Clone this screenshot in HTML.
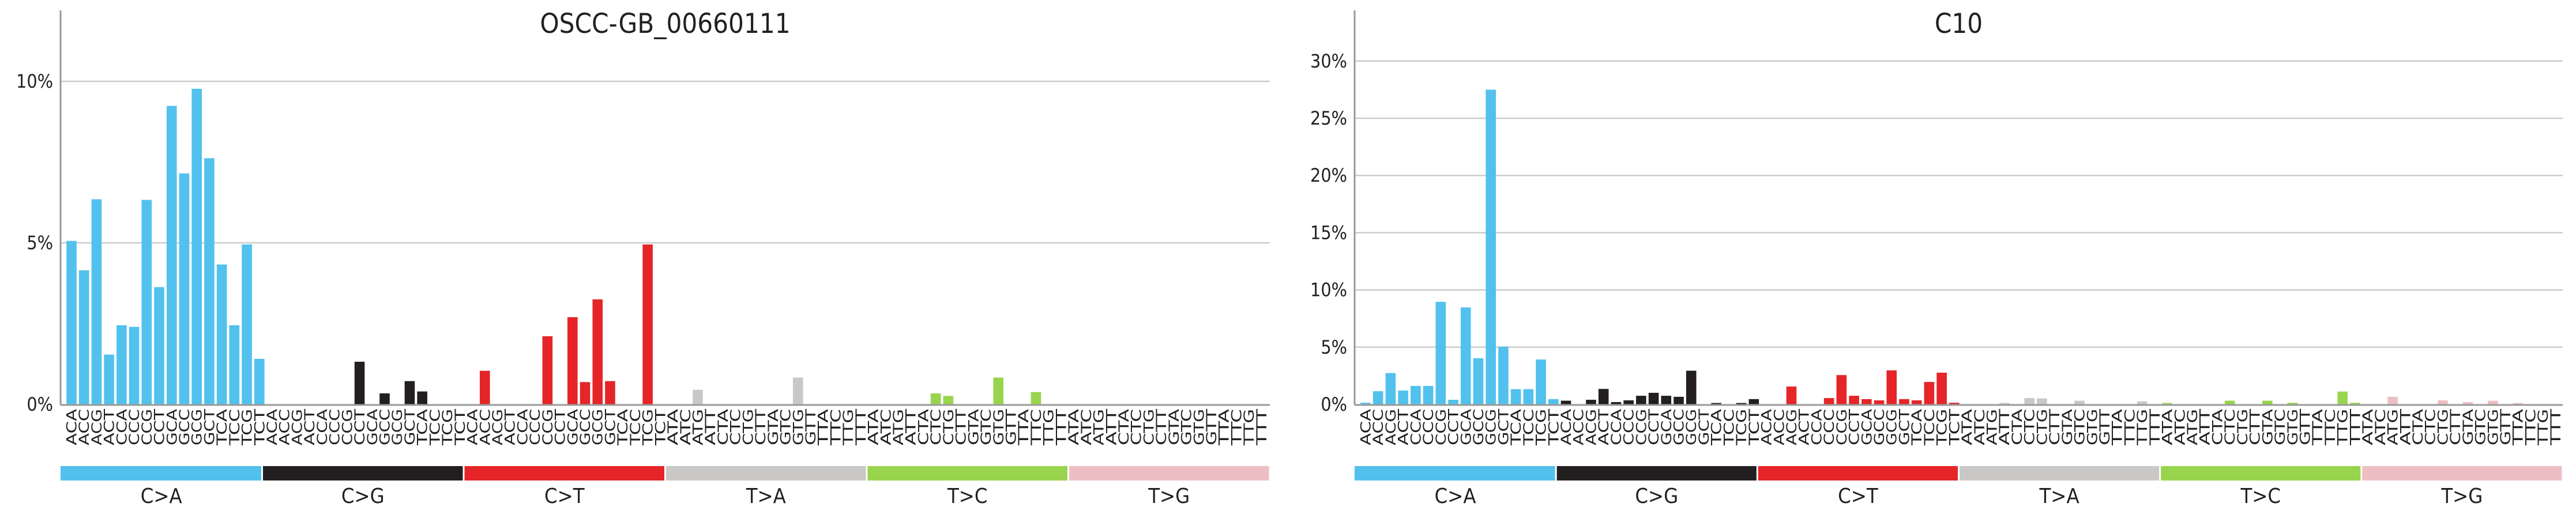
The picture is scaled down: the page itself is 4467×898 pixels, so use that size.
<!DOCTYPE html>
<html><head><meta charset="utf-8"><style>
html,body{margin:0;padding:0;background:#fff;}
svg{display:block;font-family:"DejaVu Sans Condensed","DejaVu Sans","Liberation Sans",sans-serif;}
</style></head><body>
<svg id="chart" width="4467" height="898" viewBox="0 0 4467 898" xmlns="http://www.w3.org/2000/svg"></svg>
<script>
const groups = ["C>A","C>G","C>T","T>A","T>C","T>G"];
const groupColors = ["#52c1ee","#231f20","#e52528","#c9c8c6","#98d44d","#edbec3"];
const panelTitles = ["OSCC-GB_00660111","C10"];
const seriesA = [5.06,4.15,6.35,1.54,2.45,2.40,6.33,3.63,9.24,7.15,9.77,7.62,4.33,2.45,4.95,1.41,
 0,0,0,0,0,0,0,1.32,0,0.34,0,0.72,0.40,0,0,0,
 0,1.04,0,0,0,0,2.11,0,2.70,0.69,3.25,0.72,0,0,4.95,0,
 0,0,0.45,0,0,0,0,0,0,0,0.83,0,0,0,0,0,
 0,0,0,0,0,0.34,0.26,0,0,0,0.83,0,0,0.38,0,0,
 0,0,0,0,0,0,0,0,0,0,0,0,0,0,0,0];
const seriesB = [0.14,1.15,2.74,1.21,1.61,1.61,8.96,0.40,8.47,4.03,27.5,5.04,1.33,1.33,3.92,0.46,
 0.32,0,0.40,1.35,0.20,0.35,0.75,1.01,0.75,0.66,2.94,0,0.12,0,0.12,0.46,
 0,0,1.56,0,0,0.55,2.56,0.75,0.46,0.35,2.97,0.46,0.35,1.96,2.77,0.14,
 0,0,0,0.12,0,0.55,0.52,0,0,0.32,0,0,0,0,0.26,0,
 0.12,0,0,0,0,0.32,0,0,0.32,0,0.14,0,0,0,1.12,0.14,
 0,0,0.66,0,0,0,0.35,0,0.20,0,0.32,0,0.12,0,0,0];
const ticksA = [0,5,10];
const ticksB = [0,5,10,15,20,25,30];
const bases = ["A","C","G","T"];

const NS="http://www.w3.org/2000/svg";
const svg=document.getElementById('chart');
function mk(tag,attrs,parent){const e=document.createElementNS(NS,tag);for(const k in attrs)e.setAttribute(k,attrs[k]);(parent||svg).appendChild(e);return e;}

const panels=[
 {title:panelTitles[0],data:seriesA,ticks:ticksA,x0:105,x1:2202,c0:124,pxPer:56,tickX:92,name:'left'},
 {title:panelTitles[1],data:seriesB,ticks:ticksB,x0:2349,x1:4444,c0:2368,pxPer:19.84,tickX:2336,name:'right'}
];
const Y0=701, STEP=21.72, BW=17.6;

panels.forEach(p=>{
 const g=mk('g',{});
 
 
 const y=v=>Y0-v*p.pxPer;
 const xc=i=>p.c0+i*STEP;
 p.ticks.forEach(t=>{
  if(t>0){const gl=mk('line',{x1:p.x0,x2:p.x1,y1:y(t),y2:y(t),stroke:'#cccccc','stroke-width':2.5},g);
   
   }
  const tl=mk('text',{x:p.tickX,y:y(t)+11,'text-anchor':'end','font-size':32,fill:'#231f20'},g);
  tl.textContent=t+'%';
  
  
 });
 p.data.forEach((v,i)=>{
  const gi=Math.floor(i/16);
  if(v>0){const r=mk('rect',{x:xc(i)-BW/2,y:y(v),width:BW,height:v*p.pxPer,fill:groupColors[gi]},g);
   
   }
  const g5=bases[Math.floor((i%16)/4)], g3=bases[i%4], ref=groups[gi][0];
  const lx=xc(i);
  const lab=mk('text',{x:0,y:0,transform:'translate('+(lx+8.5)+',709) rotate(-90)','text-anchor':'end','font-size':24,fill:'#231f20',textLength:63,lengthAdjust:'spacingAndGlyphs'},g);
  lab.textContent=g5+ref+g3;
  
  
 });
 const ya=mk('line',{x1:p.x0,x2:p.x0,y1:18,y2:Y0+1,stroke:'#999999','stroke-width':3},g);
 
 
 const xa=mk('line',{x1:p.x0,x2:p.x1,y1:Y0+1,y2:Y0+1,stroke:'#999999','stroke-width':3},g);
 
 
 const bw=(p.x1-p.x0)/6;
 groups.forEach((gname,k)=>{
  const r=mk('rect',{x:p.x0+bw*k+(k?1.5:0),y:808,width:bw-(k?3:1.5),height:25,fill:groupColors[k]},g);
  
  
  const t=mk('text',{x:p.x0+bw*(k+0.5),y:872,'text-anchor':'middle','font-size':36,fill:'#231f20'},g);
  t.textContent=gname;
  
  
 });
 const tt=mk('text',{x:(p.x0+p.x1)/2,y:57,'text-anchor':'middle','font-size':47,fill:'#231f20'},g);
 tt.textContent=p.title;
 
 
});
</script>
</body></html>
